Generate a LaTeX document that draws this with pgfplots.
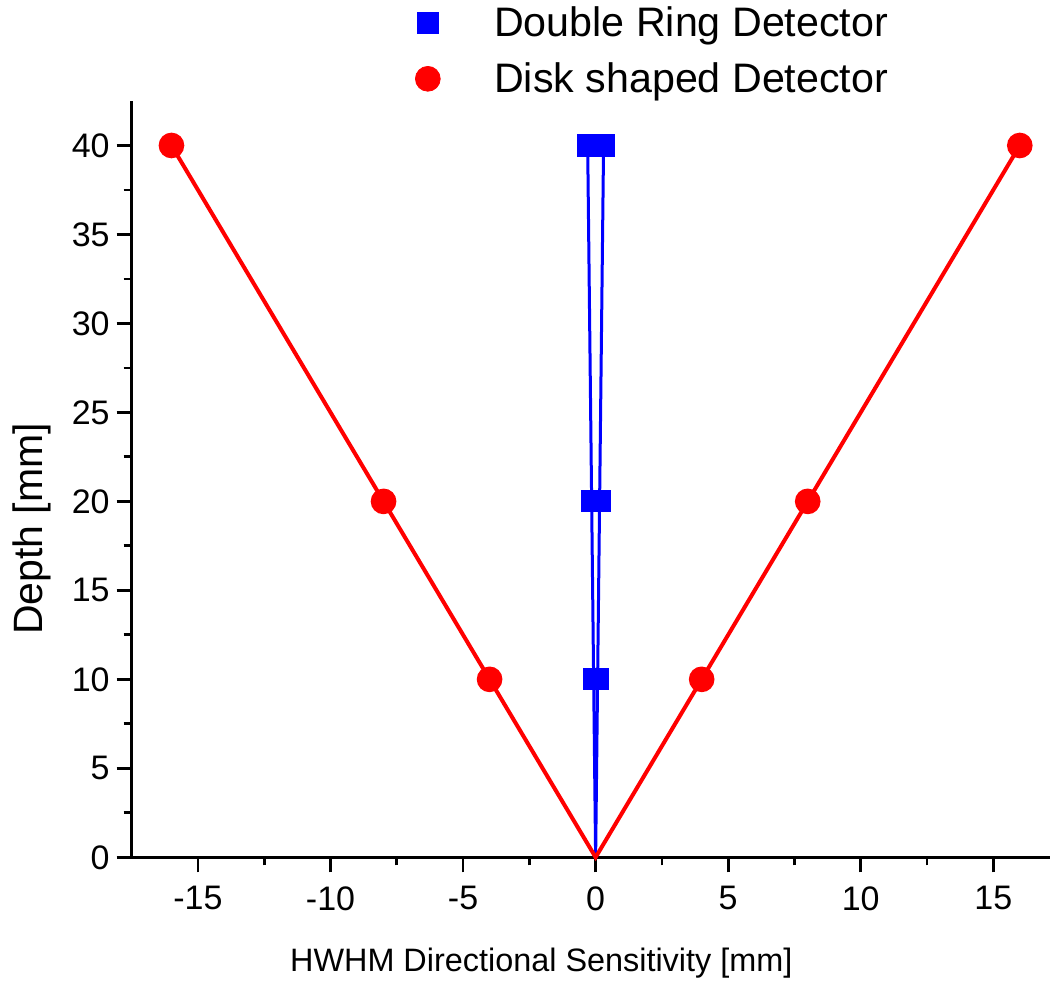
\documentclass[border=0pt]{standalone}
\usepackage{fontspec}
\setmainfont{Liberation Sans}
\usepackage{pgfplots}
\pgfplotsset{compat=1.18}

% HWHM of the directional sensitivity against depth
\pgfplotstableread{
x       y
-0.3    40
-0.15   20
-0.075  10
0       0
0.075   10
0.15    20
0.3     40
}\doublering
\pgfplotstableread{
x    y
-16  40
-8   20
-4   10
0    0
4    10
8    20
16   40
}\disk

\begin{document}
\begin{tikzpicture}
\begin{axis}[
  scale only axis,
  width=459.15pt, height=378.15pt,
  xmin=-17.5, xmax=17.14, ymin=0, ymax=42.5,
  axis x line=bottom, axis y line=left,
  axis line style={-, line width=1.4pt},
  xtick={-15,-10,...,15}, ytick={0,5,...,40},
  minor x tick num=1, minor y tick num=1,
  tick align=outside,
  major tick length=7.5pt, minor tick length=4pt,
  every tick/.style={black, line width=1.4pt},
  tick label style={font=\fontsize{17}{20}\selectfont},
  xticklabel style={yshift=-3.5pt},
  /pgf/number format/assume math mode=true,
  xlabel={HWHM Directional Sensitivity [mm]},
  ylabel={Depth [mm]},
  xlabel style={font=\fontsize{16.2}{19}\selectfont, at={(axis description cs:0.446,-0.151)}, anchor=base},
  ylabel style={font=\fontsize{20.5}{24}\selectfont, at={(axis description cs:-0.0966,0.434)}, anchor=base},
  legend style={draw=none, fill=none, font=\fontsize{20.6}{24}\selectfont,
    at={(axis description cs:0.302,1.136)}, anchor=north west, row sep=7.5pt,
    /tikz/every odd column/.append style={column sep=25pt}},
  legend cell align=left,
  clip=false,
]
\addlegendimage{only marks, mark=square*, color=blue, mark size=5.4pt}
\addlegendentry{Double Ring Detector}
\addlegendimage{only marks, mark=*, color=red, mark size=6.2pt}
\addlegendentry{Disk shaped Detector}

% the common origin carries no marker
\addplot[forget plot, color=blue, line width=1.5pt, mark=square*, mark size=4.8pt,
  mark indices={1,2,3,5,6,7}, mark options={solid}] table[x=x, y=y] {\doublering};
\addplot[forget plot, color=red, line width=2pt, mark=*, mark size=5.4pt,
  mark indices={1,2,3,5,6,7}, mark options={solid}] table[x=x, y=y] {\disk};
\end{axis}
\pgfresetboundingbox
\path[use as bounding box] (current axis.south west) ++(-65.85pt,-63.85pt) rectangle ++(525pt,492.5pt);
\end{tikzpicture}
\end{document}
